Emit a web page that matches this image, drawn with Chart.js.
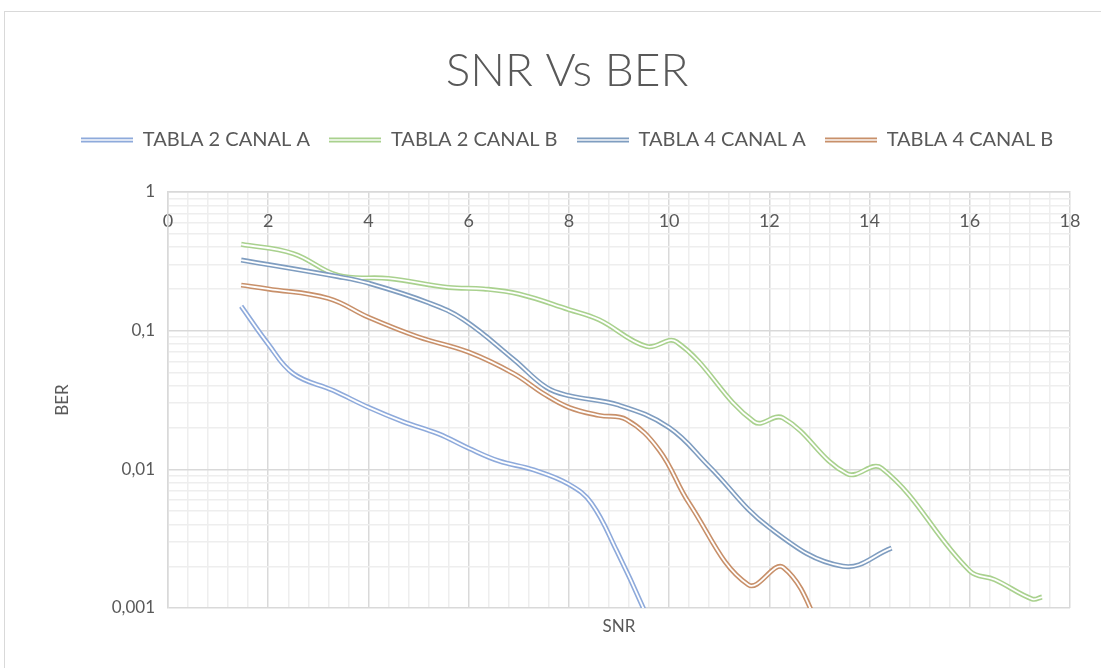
<!DOCTYPE html>
<html>
<head>
<meta charset="utf-8">
<title>SNR Vs BER</title>
<script src="https://cdn.jsdelivr.net/npm/chart.js@4.4.1/dist/chart.umd.min.js"></script>
<style>
html,body{margin:0;padding:0;background:#fff;overflow:hidden;}
#frame{position:absolute;left:4px;top:11px;width:1130px;height:670px;border:1px solid #d9d9d9;}
#chart{position:absolute;left:0;top:0;}
</style>
</head>
<body>
<div id="frame"><canvas id="chart" width="1124" height="656"></canvas></div>
<script>

/* ================= DATA ================= */

const seriesNames=["TABLA 2 CANAL A","TABLA 2 CANAL B","TABLA 4 CANAL A","TABLA 4 CANAL B"];
const seriesColors=["#8eaadb","#a9d18e","#7f9dc0","#c8906a"];

const snrT2A=[1.46,2.0,2.5,3.3,4.0,4.7,5.4,6.0,6.6,7.3,8.0,8.45,8.95,9.5,10.0];
const berT2A=[0.150,0.080,0.049,0.037,0.028,0.022,0.018,0.0142,0.0115,0.0099,0.0078,0.0057,0.0026,0.00097,0.00035];

const snrT2B=[1.46,2.5,3.4,4.4,5.6,6.3,7.0,8.0,8.6,9.55,10.15,11.7,12.27,13.55,14.24,16.0,16.5,17.25,17.44];
const berT2B=[0.42,0.36,0.25,0.238,0.205,0.20,0.184,0.142,0.12,0.077,0.083,0.022,0.0235,0.0093,0.0102,0.00185,0.0016,0.00116,0.0012];

const snrT4A=[1.46,3.4,4.0,5.2,5.9,6.9,7.55,8.0,9.0,10.0,10.8,12.0,13.47,14.44];
const berT4A=[0.323,0.245,0.22,0.159,0.12,0.062,0.039,0.034,0.029,0.020,0.0105,0.0038,0.0020,0.0027];

const snrT4B=[1.46,2.0,3.2,4.0,5.0,6.0,6.9,7.5,8.0,8.6,9.15,9.8,10.4,11.58,12.28,13.2];
const berT4B=[0.213,0.20,0.171,0.125,0.09,0.07,0.049,0.035,0.028,0.0245,0.0228,0.0138,0.0057,0.00147,0.00196,0.0005];

const snrSeries=[snrT2A,snrT2B,snrT4A,snrT4B];
const berSeries=[berT2A,berT2B,berT4A,berT4B];

const yTicks=[0.001,0.002,0.003,0.004,0.005,0.006,0.007,0.008,0.009,
0.01,0.02,0.03,0.04,0.05,0.06,0.07,0.08,0.09,
0.1,0.2,0.3,0.4,0.5,0.6,0.7,0.8,0.9,1];
const yLabelValues=[1,0.1,0.01,0.001];
const yLabelText=["1","0,1","0,01","0,001"];
const xLabelValues=[0,2,4,6,8,10,12,14,16,18];


/* ================= STYLE ================= */

const textColor="#595959";
const majorGrid="#d9d9d9";
const minorGrid="#eeeeee";
const fontFamily="Lato";


/* ================= HELPERS ================= */

function doubleLineIcon(color){
const c=document.createElement("canvas");
c.width=52;
c.height=6;
const g=c.getContext("2d");
g.fillStyle=color;
g.fillRect(0,0.5,52,1.8);
g.fillRect(0,3.7,52,1.8);
return c;
}

function buildDatasets(){
const sets=[];
seriesNames.forEach((name,s)=>{
const points=snrSeries[s].map((x,i)=>({x,y:berSeries[s][i]}));
const base={data:points,pointRadius:0,tension:0.4,clip:0,xAxisID:"x",yAxisID:"y"};
sets.push({...base,label:name,borderColor:seriesColors[s],backgroundColor:seriesColors[s],borderWidth:5,order:(3-s)*2+1});
sets.push({...base,label:name+" gap",borderColor:"#ffffff",borderWidth:1.8,order:(3-s)*2,overlay:true});
});
return sets;
}


/* ================= CHART ================= */

const legendIcons=seriesColors.map(doubleLineIcon);

new Chart(document.getElementById("chart"),{
type:"line",
data:{datasets:buildDatasets()},
options:{
responsive:false,
animation:false,
events:[],
layout:{padding:0},
plugins:{
tooltip:{enabled:false},
title:{
display:true,
text:"SNR Vs BER",
color:textColor,
font:{family:fontFamily,size:46,weight:"300",lineHeight:1.2},
padding:{top:32,bottom:11.8}
},
legend:{
display:true,
position:"top",
labels:{
usePointStyle:true,
pointStyleWidth:52,
padding:19,
color:textColor,
font:{family:fontFamily,size:20},
filter:(item,data)=>!data.datasets[item.datasetIndex].overlay,
sort:(a,b)=>a.datasetIndex-b.datasetIndex,
generateLabels(chart){
const items=Chart.defaults.plugins.legend.labels.generateLabels(chart);
items.forEach(it=>{
const s=Math.floor(it.datasetIndex/2);
it.pointStyle=legendIcons[s];
});
return items;
}
}
}
},
scales:{
x:{
type:"linear",
position:"top",
min:0,
max:18,
afterBuildTicks(scale){
const t=[];
for(let i=0;i<=45;i++) t.push({value:Math.round(i*4)/10});
scale.ticks=t;
},
afterFit(scale){scale.height=32;},
ticks:{
autoSkip:false,
maxRotation:0,
minRotation:0,
mirror:true,
padding:18,
color:textColor,
font:{family:fontFamily,size:18},
callback:v=>xLabelValues.includes(v)?String(v):""
},
grid:{
drawTicks:false,
lineWidth:1.5,
color:c=>xLabelValues.includes(c.tick.value)?majorGrid:minorGrid
},
border:{color:majorGrid,width:1.5}
},
x2:{
type:"linear",
position:"bottom",
min:0,
max:18,
afterFit(scale){scale.height=60;},
ticks:{display:false},
grid:{display:false},
border:{display:false},
title:{
display:true,
text:"SNR",
color:textColor,
font:{family:fontFamily,size:17},
padding:{top:0,bottom:31}
}
},
y:{
type:"logarithmic",
position:"left",
min:0.001,
max:1,
afterBuildTicks(scale){
scale.ticks=yTicks.map(v=>({value:v}));
},
afterFit(scale){scale.width=163;},
ticks:{
autoSkip:false,
padding:13,
color:textColor,
font:{family:fontFamily,size:17},
callback:v=>{
const k=yLabelValues.indexOf(v);
return k>=0?yLabelText[k]:"";
}
},
grid:{
drawTicks:false,
lineWidth:1.5,
color:c=>yLabelValues.includes(c.tick.value)?majorGrid:minorGrid
},
border:{color:majorGrid,width:1.5},
title:{
display:true,
text:"BER",
color:textColor,
font:{family:fontFamily,size:17},
padding:{top:47,bottom:0}
}
},
yR:{
type:"linear",
position:"right",
afterFit(scale){scale.width=59;},
ticks:{display:false},
grid:{display:false},
border:{display:false}
}
}
}
});

</script>
</body>
</html>
